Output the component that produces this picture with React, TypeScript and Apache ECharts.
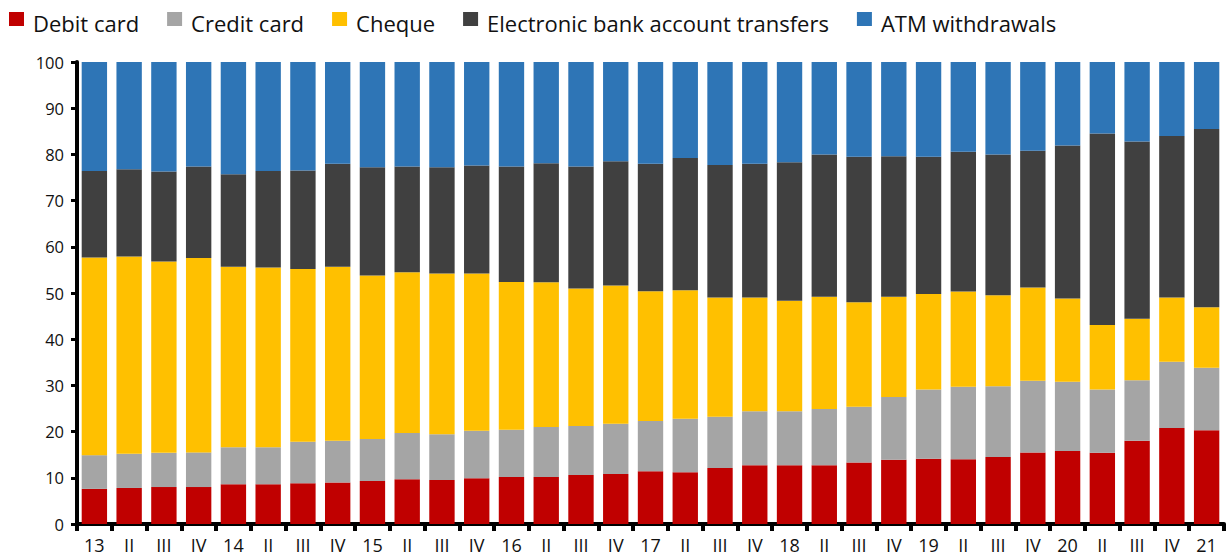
import React, { useEffect, useRef } from "react";
import * as echarts from "echarts";

const categories = [
  "13", "II", "III", "IV",
  "14", "II", "III", "IV",
  "15", "II", "III", "IV",
  "16", "II", "III", "IV",
  "17", "II", "III", "IV",
  "18", "II", "III", "IV",
  "19", "II", "III", "IV",
  "20", "II", "III", "IV",
  "21",
];

const debitCard = [
  7.6, 7.8, 8.0, 8.0, 8.6, 8.6, 8.8, 9.0, 9.3, 9.7, 9.5, 9.9, 10.2, 10.2, 10.6, 10.8,
  11.4, 11.2, 12.1, 12.7, 12.7, 12.7, 13.3, 13.9, 14.1, 14.0, 14.5, 15.5, 15.8, 15.4,
  18.0, 20.8, 20.3,
];
const creditCard = [
  7.3, 7.4, 7.4, 7.5, 8.0, 8.0, 9.0, 9.0, 9.1, 10.0, 9.9, 10.3, 10.2, 10.8, 10.6, 10.9,
  10.9, 11.6, 11.1, 11.7, 11.7, 12.2, 12.1, 13.6, 15.0, 15.7, 15.3, 15.5, 15.0, 13.7,
  13.1, 14.3, 13.5,
];
const cheque = [
  42.8, 42.7, 41.4, 42.1, 39.1, 38.9, 37.4, 37.7, 35.4, 34.8, 34.8, 34.0, 32.0, 31.3,
  29.8, 29.9, 28.1, 27.8, 25.8, 24.6, 23.9, 24.3, 22.6, 21.7, 20.7, 20.6, 19.7, 20.2,
  18.0, 14.0, 13.3, 13.9, 13.1,
];
const electronicTransfers = [
  18.7, 18.9, 19.5, 19.8, 20.0, 20.9, 21.3, 22.3, 23.4, 22.9, 23.0, 23.4, 25.0, 25.8,
  26.4, 26.9, 27.6, 28.6, 28.7, 29.0, 30.0, 30.8, 31.5, 30.4, 29.7, 30.3, 30.5, 29.6,
  33.1, 41.4, 38.4, 35.0, 38.6,
];
const atmWithdrawals = [
  23.6, 23.2, 23.7, 22.6, 24.3, 23.6, 23.5, 22.0, 22.8, 22.6, 22.8, 22.4, 22.6, 21.9,
  22.6, 21.5, 22.0, 20.8, 22.3, 22.0, 21.7, 20.0, 20.5, 20.4, 20.5, 19.4, 20.0, 19.2,
  18.1, 15.5, 17.2, 16.0, 14.5,
];

const seriesDefs = [
  { name: "Debit card", data: debitCard, color: "#C00000" },
  { name: "Credit card", data: creditCard, color: "#A5A5A5" },
  { name: "Cheque", data: cheque, color: "#FFC000" },
  { name: "Electronic bank account transfers", data: electronicTransfers, color: "#404040" },
  { name: "ATM withdrawals", data: atmWithdrawals, color: "#2E75B6" },
];

const FONT = "'Open Sans', 'Noto Sans', sans-serif";
// square in the upper part of a taller box, so the label sits a little lower than the marker
const LEGEND_ICON = "path://M0,0h15v14h-15zM7.5,22h0.01v0.01h-0.01z";

export default function App() {
  const ref = useRef<HTMLDivElement>(null);
  useEffect(() => {
    if (!ref.current) return;
    const chart = echarts.init(ref.current, undefined, { renderer: "svg" });
    chart.setOption({
      animation: false,
      backgroundColor: "#ffffff",
      textStyle: { fontFamily: FONT },
      legend: {
        left: 9,
        top: 12,
        padding: 0,
        itemWidth: 15,
        itemHeight: 22,
        itemGap: 28,
        icon: LEGEND_ICON,
        textStyle: {
          fontSize: 22,
          color: "#111",
          fontFamily: FONT,
          padding: [0, 0, 0, 4],
        },
        data: seriesDefs.map((s) => s.name),
      },
      grid: { left: 77, right: 8, top: 62, bottom: 34 },
      xAxis: {
        type: "category",
        data: categories,
        axisLine: { lineStyle: { color: "#000", width: 4 } },
        axisTick: { show: true, length: 7, lineStyle: { color: "#000", width: 4 } },
        axisLabel: { color: "#111", fontSize: 18, margin: 12, interval: 0, fontFamily: FONT },
      },
      yAxis: {
        type: "value",
        min: 0,
        max: 100,
        interval: 10,
        axisLine: { show: true, lineStyle: { color: "#000", width: 4 } },
        axisTick: { show: true, length: 6, lineStyle: { color: "#000", width: 3 } },
        axisLabel: { color: "#111", fontSize: 16.5, margin: 13, fontFamily: FONT },
        splitLine: { show: false },
      },
      series: seriesDefs.map((s) => ({
        name: s.name,
        type: "bar",
        stack: "total",
        barCategoryGap: "27%",
        data: s.data,
        itemStyle: { color: s.color },
      })),
    });
    return () => chart.dispose();
  }, []);
  return (
    <div
      ref={ref}
      style={{ position: "absolute", left: 0, top: 0, width: 1232, height: 558 }}
    />
  );
}
